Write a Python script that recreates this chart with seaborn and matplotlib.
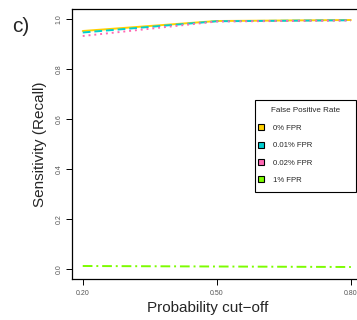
import pandas as pd
import seaborn as sns
import matplotlib.pyplot as plt
from matplotlib.patches import Patch, Rectangle

# data
cutoffs = [0.20, 0.50, 0.80]
fpr_labels = ['0% FPR', '0.01% FPR', '0.02% FPR', '1% FPR']
recall_0 = [0.952, 0.992, 0.996]
recall_001 = [0.946, 0.991, 0.995]
recall_002 = [0.932, 0.990, 0.994]
recall_1 = [0.012, 0.010, 0.008]

colors = ['#FFD000', '#00CED1', '#FF69B4', '#7CFC00']
styles = ['-', (0, (4, 2)), (0, (1, 2)), (0, (5, 2, 1, 2))]

df = pd.DataFrame({
    'cutoff': cutoffs * 4,
    'recall': recall_0 + recall_001 + recall_002 + recall_1,
    'FPR': [lab for lab in fpr_labels for _ in cutoffs],
})

sns.set_style('ticks')
plt.rcParams['font.family'] = ['Liberation Sans', 'DejaVu Sans']

fig = plt.figure(figsize=(3.57, 3.2), dpi=100)
W, H = 357, 320
left, right, top, bottom = 72, 361.6, 9, 279
ax = fig.add_axes([left / W, 1 - bottom / H, (right - left) / W, (bottom - top) / H])

for lab, col, ls in zip(fpr_labels, colors, styles):
    sub = df[df['FPR'] == lab]
    sns.lineplot(data=sub, x='cutoff', y='recall', ax=ax, color=col,
                 linestyle=ls, linewidth=1.4, legend=False)

ax.set_xlim(0.176, 0.824)
ax.set_ylim(-0.04, 1.04)
ax.set_xticks(cutoffs)
ax.set_xticklabels(['0.20', '0.50', '0.80'])
ax.set_yticks([0.0, 0.2, 0.4, 0.6, 0.8, 1.0])
ax.set_yticklabels(['0.0', '0.2', '0.4', '0.6', '0.8', '1.0'], rotation=90, va='center')
ax.tick_params(axis='both', labelsize=5, length=4, width=0.7, color='black',
               labelcolor='#555555', direction='out')
ax.tick_params(axis='y', pad=3)
ax.tick_params(axis='x', pad=4)
for s in ax.spines.values():
    s.set_color('black')
    s.set_linewidth(0.9)

ax.set_xlabel('Probability cut\u2212off', fontsize=11)
ax.set_ylabel('Sensitivity (Recall)', fontsize=11)
ax.xaxis.set_label_coords((208 - left) / (right - left), -(308 - bottom) / (bottom - top))
ax.yaxis.set_label_coords(-(left - 40) / (right - left), 0.5)
ax.xaxis.label.set_va('center')
ax.yaxis.label.set_va('center')

fig.text(21 / W, 1 - 27 / H, 'c)', fontsize=15, ha='center', va='center')

# legend: R-style box with centred title and filled squares
frame = Rectangle((255 / W, 1 - 192 / H), 101 / W, 92 / H, transform=fig.transFigure,
                  facecolor='white', edgecolor='black', linewidth=0.8, zorder=4,
                  clip_on=False)
ax.add_patch(frame)
ax.text(305.5 / W, 1 - 110 / H, 'False Positive Rate', fontsize=5.8,
        ha='center', va='center', zorder=6, transform=fig.transFigure)
handles = [Patch(facecolor=c, edgecolor='black', linewidth=0.8, label=l)
           for c, l in zip(colors, fpr_labels)]
leg = ax.legend(handles=handles, fontsize=5.6, loc='upper left',
                bbox_to_anchor=(258 / W, 1 - 124.5 / H), bbox_transform=fig.transFigure,
                frameon=False, handlelength=0.8, handleheight=0.8, handletextpad=1.1,
                labelspacing=1.22, borderpad=0, borderaxespad=0)
leg.set_zorder(6)

fig.savefig('out.png', dpi=100)
